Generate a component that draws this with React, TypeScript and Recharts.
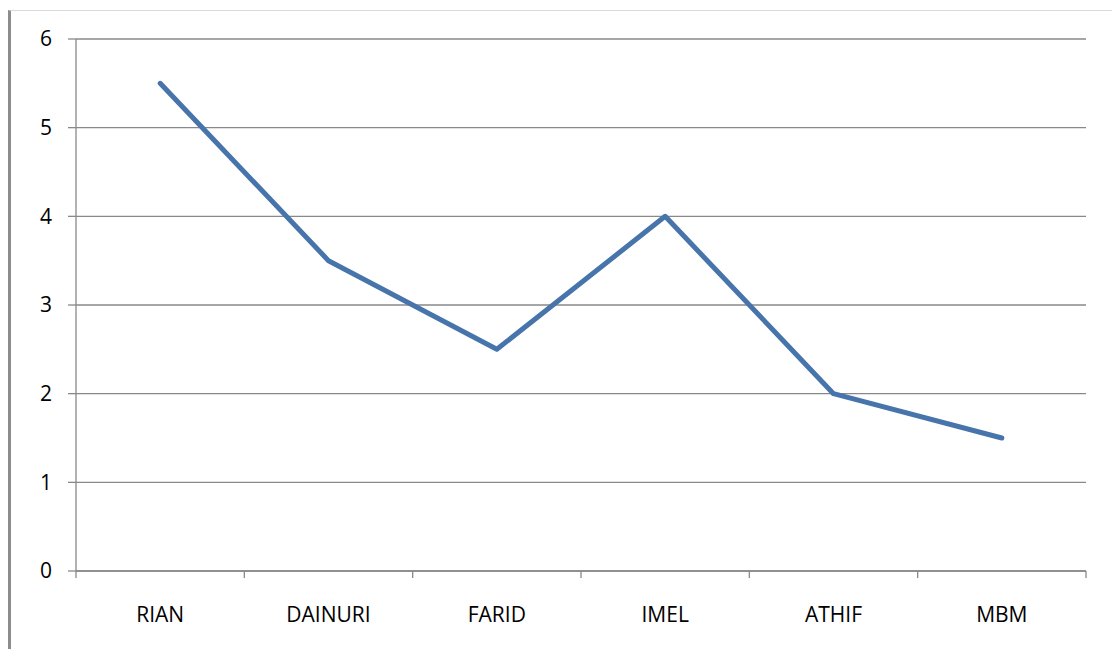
import { LineChart, Line, XAxis, YAxis, CartesianGrid } from 'recharts';

// Values
const names = ['RIAN', 'DAINURI', 'FARID', 'IMEL', 'ATHIF', 'MBM'];
const scores = [5.5, 3.5, 2.5, 4.0, 2.0, 1.5];
const yTicks = [0, 1, 2, 3, 4, 5, 6];
const bandEdges = [0, 1, 2, 3, 4, 5, 6];

// pos = centre of each category band on a 0..6 scale
const data = names.map((name, i) => ({ name, pos: i + 0.5, score: scores[i] }));

const GRID = '#898989';
const FONT = '"Open Sans", "Noto Sans", sans-serif';

const NoLabel = () => <g />;

export default function App() {
  return (
    <div style={{ position: 'absolute', left: 0, top: 0, width: 1112, height: 649, background: '#fff', overflow: 'hidden' }}>
      {/* outer chart frame */}
      <div
        style={{
          position: 'absolute',
          left: 8,
          top: 10,
          width: 1200,
          height: 700,
          borderLeft: '3px solid #8c8c8c',
          borderTop: '1px solid #d9d9d9',
        }}
      />
      <div style={{ position: 'absolute', left: 0, top: 0 }}>
        <LineChart width={1112} height={649} data={data} margin={{ top: 39, right: 26, left: 16, bottom: 38 }}>
          <CartesianGrid vertical={false} stroke={GRID} strokeWidth={1.3} />
          {/* band boundary ticks, as in the original */}
          <XAxis
            dataKey="pos"
            type="number"
            domain={[0, 6]}
            allowDataOverflow
            ticks={bandEdges}
            interval={0}
            tick={NoLabel}
            tickSize={7}
            stroke={GRID}
            strokeWidth={1.3}
            height={10}
          />
          <XAxis
            xAxisId="cat"
            dataKey="name"
            scale="band"
            axisLine={false}
            tickLine={false}
            tickMargin={20}
            height={30}
            tick={{ fill: '#000', fontSize: 21, fontFamily: FONT }}
          />
          <YAxis
            domain={[0, 6]}
            ticks={yTicks}
            width={60}
            tickSize={8}
            tickMargin={16}
            stroke={GRID}
            strokeWidth={1.3}
            tick={{ fill: '#000', fontSize: 21, fontFamily: FONT }}
          />
          <Line
            xAxisId="cat"
            dataKey="score"
            stroke="#4674AB"
            strokeWidth={5}
            strokeLinecap="round"
            strokeLinejoin="round"
            dot={false}
            isAnimationActive={false}
          />
        </LineChart>
      </div>
    </div>
  );
}
